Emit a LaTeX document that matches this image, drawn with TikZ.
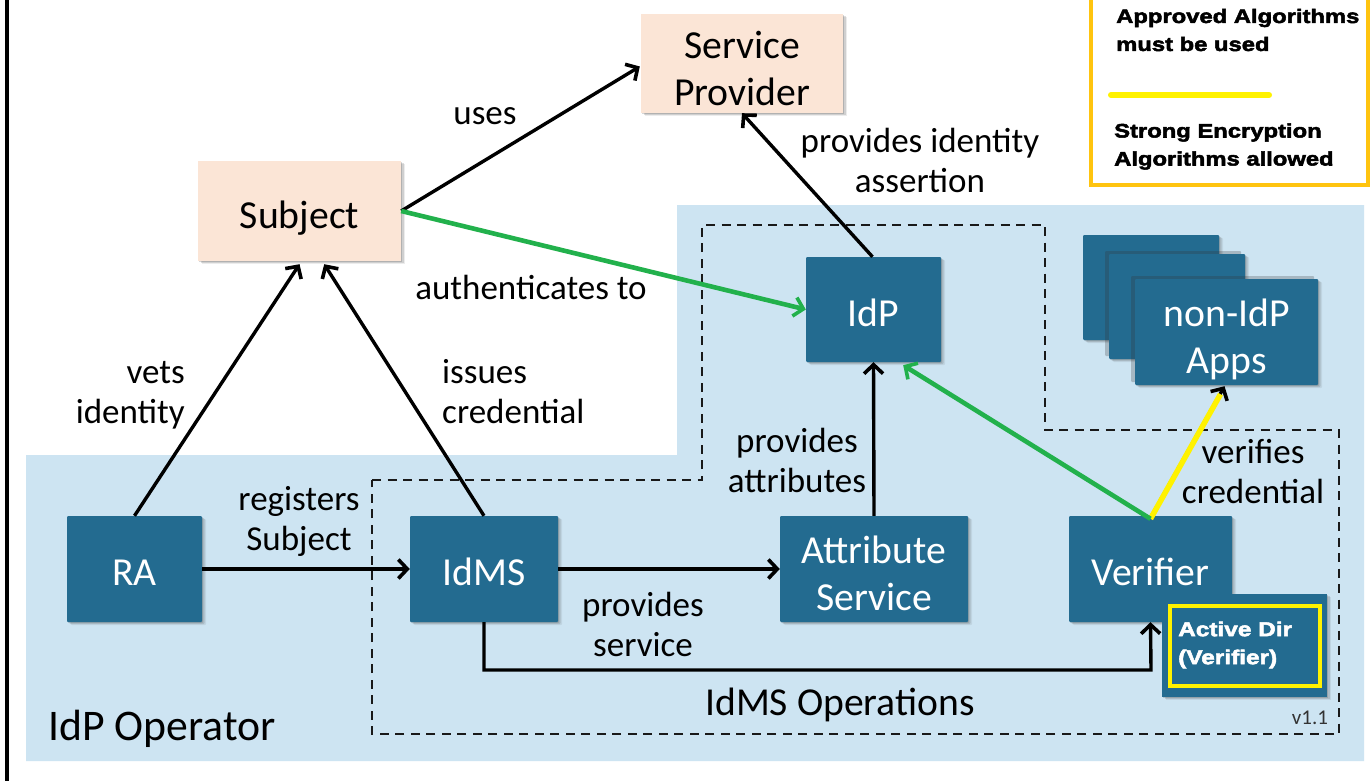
\documentclass[tikz,border=0pt]{standalone}
\usepackage{fontspec}
\setmainfont{Carlito}
\newfontfamily\heavy[FakeStretch=1.22,FakeBold=2.6]{Liberation Sans Bold}
\usetikzlibrary{arrows.meta,calc,shadows}
\definecolor{opbg}{HTML}{CDE4F2}
\definecolor{boxblue}{HTML}{236B90}
\definecolor{peach}{HTML}{FBE5D6}
\definecolor{gr}{HTML}{22B14C}
\definecolor{yel}{HTML}{FFF200}
\definecolor{gold}{HTML}{FFC40F}
% sets a node's text at a given drop below the centre of its box, without touching the box size
\newcommand\lowr[2]{\raisebox{-#1}[0pt][0pt]{\begin{tabular}{@{}c@{}}#2\end{tabular}}}
\tikzset{
  softshadow/.style={
    drop shadow={shadow xshift=1pt,shadow yshift=-1pt,opacity=.22,fill=black!70},
    drop shadow={shadow xshift=2.5pt,shadow yshift=-2pt,opacity=.18,fill=black!70},
    drop shadow={shadow xshift=4pt,shadow yshift=-3pt,opacity=.10,fill=black!70}},
  topshadow/.style={drop shadow={shadow xshift=-4pt,shadow yshift=3pt,opacity=.25,fill=black!80}},
  dark/.style={rectangle,rounded corners=1pt,fill=boxblue,text=white,inner sep=0pt,softshadow,
    font=\fontsize{39.7}{47}\selectfont},
  light/.style={rectangle,fill=peach,text=black,inner sep=0pt,softshadow,
    font=\fontsize{39.7}{47}\selectfont},
  lbl/.style={inner sep=0pt,align=center,text=black,font=\fontsize{35}{40}\selectfont},
  legendtxt/.style={inner sep=0pt,align=left,anchor=west,text=black,font=\heavy\fontsize{19.5}{28}\selectfont},
  arr/.style={-{Straight Barb[length=9pt,width=19pt,line width=3.6pt]},line width=3.4pt,black},
  green arr/.style={-{Straight Barb[length=9pt,width=19pt,line width=3.6pt]},line width=4.6pt,gr},
  dashbox/.style={draw=black!90,line width=2.6pt,dash pattern=on 9pt off 6.5pt},
}
\begin{document}
\begin{tikzpicture}[x=1pt,y=-1pt]
\path[use as bounding box,fill=white] (0,0) rectangle (1372,781);
% frame fragment and group
\fill[black] (5,0) rectangle (8.5,781);
\fill[opbg] (26,455) -- (677,455) -- (677,205) -- (1364,205) -- (1364,761) -- (26,761) -- cycle;
\draw[dashbox] (372,480) -- (702,480) -- (702,225) -- (1045,225) -- (1045,430) -- (1339,430) -- (1339,734) -- (372,734) -- cycle;
% legend
\draw[gold,line width=4pt] (1091,-5) -- (1091,185) -- (1368,185) -- (1368,-5);
\node[legendtxt] (legA) at (1116,30) {Approved Algorithms\\must be used};
\coordinate (legL) at (1111,95);
\coordinate (legR) at (1269,95);
\draw[yel,line width=6pt,line cap=round] (legL) -- (legR);
\node[legendtxt] (legB) at (1114,146.5) {Strong Encryption\\Algorithms allowed};
% nodes
\node[light,minimum width=203pt,minimum height=100pt] (subject) at (299.5,211) {\lowr{14pt}{Subject}};
\node[light,minimum width=202pt,minimum height=99pt] (sp) at (742,63.5) {\lowr{15.5pt}{Service\\Provider}};
\node[dark,minimum width=135pt,minimum height=105pt] (idp) at (873.5,309.5) {\lowr{13.5pt}{IdP}};
\node[dark,minimum width=135pt,minimum height=106pt] (ra) at (134.5,569) {\lowr{13pt}{RA}};
\node[dark,minimum width=148pt,minimum height=106pt] (idms) at (484,569) {\lowr{13pt}{IdMS}};
\node[dark,minimum width=188pt,minimum height=106pt] (attr) at (874,569) {\lowr{15pt}{Attribute\\Service}};
\node[dark,minimum width=163pt,minimum height=106pt] (verifier) at (1150.5,569) {\lowr{13pt}{Verifier}};
\node[dark,minimum width=136pt,minimum height=105pt] (app1) at (1151,287.5) {};
\node[dark,topshadow,minimum width=136pt,minimum height=105pt] (app2) at (1177,306.5) {};
\node[dark,topshadow,minimum width=183pt,minimum height=106pt] (apps) at (1226.5,332) {\lowr{15pt}{non-IdP\\Apps}};
\node[dark,rounded corners=0pt,minimum width=165pt,minimum height=103pt] (ad) at (1244.5,645.5) {};
\node[draw=yel,line width=4pt,minimum width=150pt,minimum height=80pt,inner sep=0pt] (adframe) at (ad.center) {};
\node[inner sep=0pt,align=left,anchor=west,text=white,font=\heavy\fontsize{20}{28}\selectfont] (adtxt) at (1178,645) {Active Dir\\(Verifier)};
% connectors
\draw[arr] (subject.east) -- ($(sp.west)+(-1,3)$);
\draw[arr] (ra.north) -- ($(subject.south)+(0,3)$);
\draw[arr] (idms.north) -- ($(subject.south east)+(-77,3)$);
\draw[arr] ($(idp.north)+(-1,0)$) -- (sp.south);
\draw[arr] (attr.north) -- (idp.south);
\draw[arr] (ra.east) -- (idms.west);
\draw[arr] (idms.east) -- (attr.west);
\draw[arr] (idms.south) |- (1151,670) -- (verifier.south);
\draw[arr] ($(verifier.north)+(0,2)$) -- ($(apps.south)+(-2,1)$);
\draw[yel,line width=5.5pt] ($(verifier.north)+(0,3)$) -- ($(apps.south)+(-6,9)$);
\draw[green arr] (subject.east) -- (idp.west);
\draw[green arr] ($(verifier.north)+(0,3)$) -- ($(idp.south east)+(-38,3)$);
% labels
\node[lbl] (l1) at (485,116) {uses};
\node[lbl] (l2) at (920,160) {provides identity\\assertion};
\node[lbl] (l3) at (531,287) {authenticates to};
\node[lbl,align=right,anchor=east] (l4) at (185,395) {vets\\identity};
\node[lbl,align=left,anchor=west] (l5) at (442,392) {issues\\credential};
\node[lbl] (l6) at (299,521) {registers\\Subject};
\node[lbl] (l7) at (643,624.5) {provides\\service};
\node[lbl] (l8) at (797,460) {provides\\attributes};
\node[lbl] (l9) at (1253,472) {verifies\\credential};
\node[inner sep=0pt,font=\fontsize{39.6}{40}\selectfont] (g1) at (840,705) {IdMS Operations};
\node[inner sep=0pt,anchor=west,font=\fontsize{43.7}{44}\selectfont] (g2) at (48,729) {IdP Operator};
\node[inner sep=0pt,text=black!80,font=\fontsize{21}{20}\selectfont] (g3) at (1310,718) {v1.1};
\end{tikzpicture}
\end{document}
